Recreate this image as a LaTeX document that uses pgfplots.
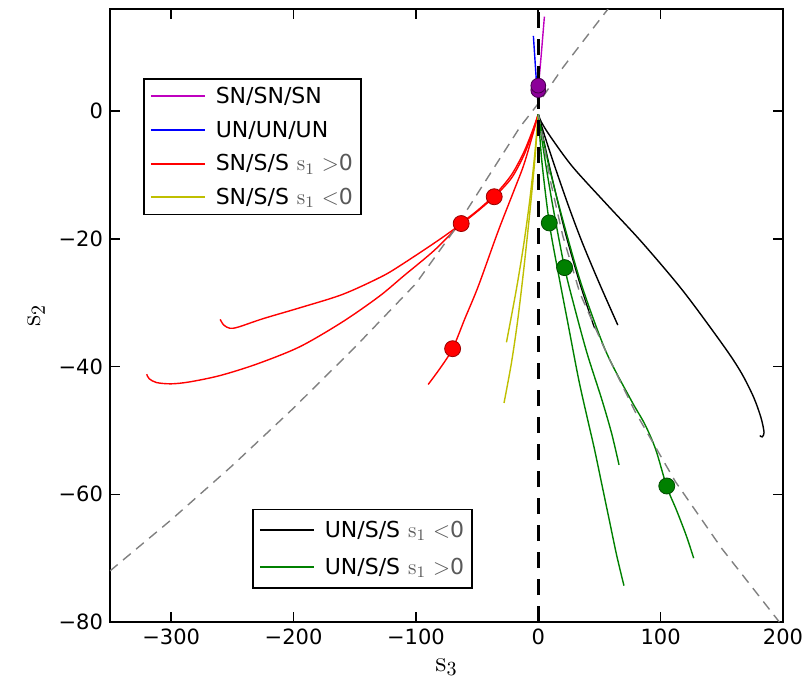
\documentclass[border=0pt]{standalone}
\usepackage{fontspec}
\usepackage{pgfplots}
\pgfplotsset{compat=1.18}
\newfontfamily\dv{DejaVu Sans}
\definecolor{mplm}{rgb}{0.75,0,0.75}
\definecolor{mply}{rgb}{0.75,0.75,0}
\definecolor{mplg}{rgb}{0,0.5,0}
\definecolor{purp}{rgb}{0.55,0,0.6}
\definecolor{lgray}{rgb}{0.35,0.35,0.35}
\newcommand{\sone}[1]{\hspace{4pt}\textcolor{lgray}{$\mathrm{s}_1$ $#1$0}}
\pgfplotsset{
  overlay axis/.style={
    at={(0pt,0pt)}, anchor=south west,
    scale only axis, width=336.5pt, height=306.5pt,
    xmin=-350, xmax=200, ymin=-80, ymax=16},
  mylegend/.style={
    legend cell align=left,
    legend image code/.code={\draw[##1, line width=1pt] (0pt,0pt) -- (27pt,0pt);},
    legend style={font=\fontsize{11}{13}\selectfont\dv, draw=black, line width=0.8pt,
      inner xsep=3pt, row sep=0pt,
      /tikz/every odd column/.append style={column sep=4pt}}},
}
\begin{document}
\begin{tikzpicture}
\useasboundingbox (-55pt,-32pt) rectangle (351pt,311pt);
\begin{axis}[
  overlay axis,
  xtick={-300,-200,-100,0,100,200},
  xticklabels={−300,−200,−100,0,100,200},
  ytick={-80,-60,-40,-20,0},
  yticklabels={−80,−60,−40,−20,0},
  tick align=inside, major tick length=5pt,
  tick style={black, line width=0.8pt},
  axis line style={line width=1pt},
  ticklabel style={font=\fontsize{10.5}{12}\selectfont\dv},
  xlabel={$\mathrm{s}_3$}, ylabel={$\mathrm{s}_2$},
  label style={font=\Large},
]
% SN/SN/SN and UN/UN/UN
\addplot[mplm, line width=0.7pt] coordinates {(0,3.5) (2.5,9) (5,14.8)};
\addplot[blue, line width=0.7pt] coordinates {(0,0.5) (-2,6) (-4,11.8)};
% red SN/S/S s1>0
\addplot[red, line width=0.7pt, smooth] coordinates {
(0,-0.5) (-5,-3.2) (-12,-6.5) (-22,-10) (-35,-13) (-50,-15.6) (-63,-17.6) (-85,-21.8) (-110,-25.8) (-130,-29) (-160,-33) (-195,-36.9) (-230,-39.6) (-260,-41.4) (-285,-42.4) (-300,-42.7) (-312,-42.5) (-318,-41.9) (-320,-41.2)};
\addplot[red, line width=0.7pt, smooth] coordinates {
(0,-0.5) (-5,-3.5) (-12,-7) (-22,-10.5) (-36,-13.4) (-55,-16.5) (-80,-20) (-113,-24.2) (-129,-26) (-160,-28.7) (-195,-30.8) (-225,-32.5) (-245,-33.8) (-252,-34) (-257,-33.5) (-260,-32.6)};
\addplot[red, line width=0.7pt, smooth] coordinates {
(0,-0.5) (-5,-4) (-12,-8.5) (-20,-12.5) (-33,-18.9) (-49,-27.4) (-60,-32.5) (-70,-37.2) (-80,-40.2) (-90,-42.8)};
% yellow SN/S/S s1<0
\addplot[mply, line width=0.7pt, smooth] coordinates {
(0,-0.5) (-3,-7) (-7,-14) (-12,-21) (-18,-28) (-26,-36.2)};
\addplot[mply, line width=0.7pt, smooth] coordinates {
(0,-0.5) (-3,-8) (-7,-16) (-12,-25) (-17,-33) (-22,-39.5) (-28,-45.7)};
% black UN/S/S s1<0
\addplot[black, line width=0.7pt, smooth] coordinates {
(0,-0.5) (2.5,-1.7) (10,-4) (28,-8.7) (56,-14.6) (85,-20.6) (118.5,-28.2) (152,-36.9) (166,-41) (176,-44.8) (182,-48) (184.5,-50.3) (183,-51) (181,-50.8)};
\addplot[black, line width=0.7pt, smooth] coordinates {
(0,-0.5) (3,-2.5) (8,-5.5) (15,-9.5) (25,-15) (36,-20.6) (50,-27) (65,-33.5)};
\addplot[black, line width=0.6pt, smooth] coordinates {
(0,-0.5) (5,-5) (12,-11) (22,-19) (34,-27) (46,-34)};
% green UN/S/S s1>0
\addplot[mplg, line width=0.7pt, smooth] coordinates {
(0,-0.5) (3,-8) (9,-17.5) (16,-25) (24,-33) (33,-42) (40,-48) (46,-53) (52,-58.5) (58,-64) (64,-69.5) (70,-74.3)};
\addplot[mplg, line width=0.7pt, smooth] coordinates {
(0,-0.5) (5,-7) (12,-15) (21.5,-24.5) (30,-31) (40,-38) (52,-45.2) (60,-50.5) (66,-55.4)};
\addplot[mplg, line width=0.7pt, smooth] coordinates {
(0,-0.5) (8,-8) (20,-17) (35,-27) (55,-37.5) (75.7,-45.2) (87,-49) (96,-53) (105,-58.8) (113,-62.5) (121,-66.5) (127,-70)};
% gray dashed boundary curves
\addplot[gray, line width=0.7pt, dash pattern=on 5pt off 3.5pt] coordinates {
(-350,-72) (-300,-64) (-250,-55.5) (-200,-46.5) (-150,-37) (-100,-27) (-70,-19) (-50,-13) (-30,-7) (-15,-2.5) (0,1.2) (20,6.8) (40,11.8) (57,16)};
\addplot[gray, line width=0.7pt, dash pattern=on 5pt off 3.5pt] coordinates {
(0,-0.5) (10,-11) (20,-19.5) (34,-28.5) (56,-38) (79,-47) (112,-58) (150,-68.5) (197,-80)};
% vertical dashed line
\addplot[black, line width=1.3pt, dash pattern=on 8pt off 5.5pt] coordinates {(0,-80) (0,16)};
% markers
\addplot[only marks, mark=*, mark size=3.7pt, mark options={fill=purp, draw=black!50!purp, line width=0.4pt}] coordinates {(0,3.3) (0,4.0)};
\addplot[only marks, mark=*, mark size=4pt, mark options={fill=red, draw=black!40!red, line width=0.4pt}] coordinates {(-63,-17.6) (-36,-13.4) (-70,-37.2)};
\addplot[only marks, mark=*, mark size=4pt, mark options={fill=mplg, draw=black!40!mplg, line width=0.4pt}] coordinates {(9,-17.5) (21.5,-24.5) (105,-58.7)};
\end{axis}
\begin{axis}[
  overlay axis, hide axis, mylegend,
  legend style={at={(0.049,0.887)}, anchor=north west, inner ysep=0.3pt,
    nodes={inner sep=1pt, text height=11pt, text depth=3.8pt}},
]
\addlegendimage{mplm}
\addlegendentry{SN/SN/SN}
\addlegendimage{blue}
\addlegendentry{UN/UN/UN}
\addlegendimage{red}
\addlegendentry{SN/S/S\sone{>}}
\addlegendimage{mply}
\addlegendentry{SN/S/S\sone{<}}
\end{axis}
\begin{axis}[
  overlay axis, hide axis, mylegend,
  legend style={at={(0.211,0.054)}, anchor=south west, inner ysep=1.2pt,
    nodes={inner sep=1pt, text height=11.85pt, text depth=4.65pt}},
]
\addlegendimage{black}
\addlegendentry{UN/S/S\sone{<}}
\addlegendimage{mplg}
\addlegendentry{UN/S/S\sone{>}}
\end{axis}
\end{tikzpicture}
\end{document}
